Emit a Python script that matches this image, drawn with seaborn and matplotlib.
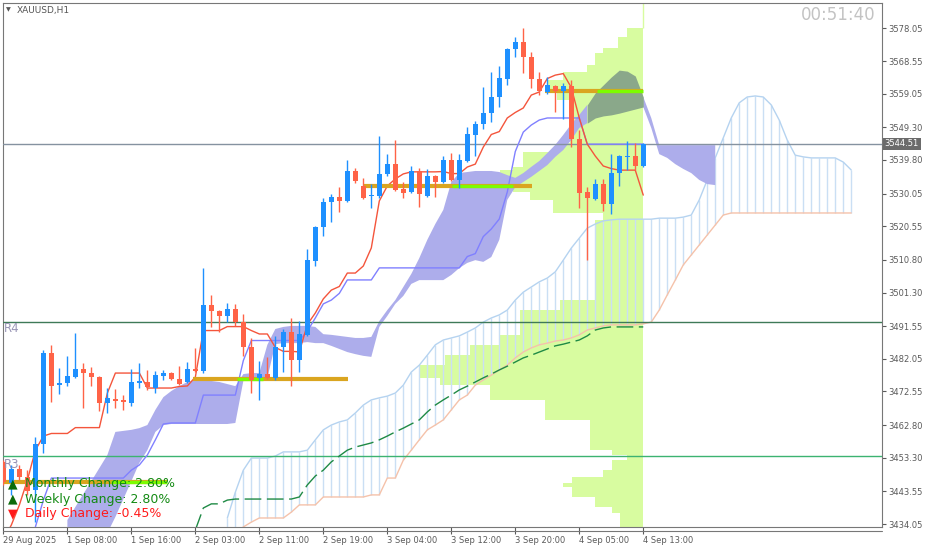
import numpy as np
import pandas as pd
import matplotlib
matplotlib.use("Agg")
import matplotlib.pyplot as plt
from matplotlib.lines import Line2D
import seaborn as sns

# ---- hourly candles, 29 Aug 2025 .. 4 Sep 13:00 (bar index 0..80) ----
opens = [3452.1, 3446.0, 3450.0, 3447.7, 3443.9, 3457.3, 3483.7, 3474.4, 3475.0, 3476.8,
         3479.1, 3477.9, 3476.8, 3469.2, 3470.4, 3470.1, 3469.2, 3475.0, 3475.3, 3473.6,
         3477.0, 3477.9, 3476.2, 3475.3, 3479.1, 3478.5, 3497.7, 3495.9, 3494.5, 3496.5,
         3492.7, 3485.5, 3476.5, 3477.6, 3476.5, 3485.5, 3489.8, 3481.7, 3489.0, 3510.5,
         3520.3, 3527.6, 3529.0, 3527.9, 3536.6, 3532.2, 3529.3, 3529.3, 3535.7, 3538.6,
         3531.4, 3530.5, 3536.6, 3529.3, 3535.1, 3533.4, 3539.8, 3534.0, 3539.5, 3547.1,
         3550.3, 3553.4, 3558.1, 3563.3, 3572.0, 3574.1, 3569.7, 3563.3, 3559.5, 3561.3,
         3559.8, 3561.3, 3545.9, 3530.5, 3528.5, 3532.8, 3527.0, 3536.0, 3540.7, 3541.0,
         3538.1]
highs = [3452.6, 3451.2, 3451.2, 3449.7, 3459.3, 3484.6, 3486.1, 3479.4, 3482.9, 3489.5,
         3480.8, 3479.7, 3477.0, 3473.6, 3473.3, 3471.5, 3479.1, 3480.8, 3478.8, 3478.5,
         3478.8, 3478.2, 3480.0, 3481.1, 3485.2, 3508.4, 3500.6, 3496.2, 3498.3, 3498.0,
         3495.1, 3488.1, 3481.4, 3482.6, 3488.7, 3490.7, 3493.9, 3493.0, 3513.9, 3520.6,
         3528.8, 3529.9, 3532.0, 3539.8, 3537.5, 3534.6, 3532.8, 3546.8, 3541.5, 3545.6,
         3533.4, 3538.1, 3537.5, 3537.2, 3535.4, 3541.0, 3541.8, 3541.5, 3549.4, 3551.1,
         3561.0, 3565.4, 3567.1, 3572.3, 3575.5, 3578.1, 3571.2, 3565.4, 3563.9, 3561.6,
         3562.2, 3563.0, 3548.5, 3532.0, 3534.3, 3534.3, 3541.5, 3541.2, 3545.3, 3544.7,
         3544.6]
lows = [3445.4, 3442.5, 3446.8, 3442.5, 3434.6, 3454.7, 3469.5, 3471.8, 3474.1, 3476.5,
        3467.8, 3474.1, 3466.9, 3466.3, 3467.8, 3467.2, 3468.3, 3473.6, 3473.0, 3472.1,
        3475.9, 3475.9, 3474.4, 3475.0, 3478.2, 3477.9, 3491.3, 3489.8, 3492.7, 3491.6,
        3482.9, 3472.1, 3470.1, 3476.2, 3475.9, 3478.2, 3474.1, 3478.2, 3488.7, 3509.0,
        3517.7, 3521.8, 3524.7, 3527.6, 3533.1, 3528.5, 3525.9, 3528.8, 3535.1, 3530.8,
        3528.8, 3530.2, 3526.1, 3529.0, 3529.0, 3533.1, 3533.7, 3531.7, 3539.2, 3541.0,
        3548.8, 3550.8, 3555.2, 3561.6, 3569.7, 3565.1, 3560.7, 3558.7, 3559.0, 3553.7,
        3551.7, 3543.6, 3525.9, 3510.7, 3528.2, 3525.0, 3524.1, 3532.2, 3536.9, 3536.9,
        3537.8]
closes = [3446.3, 3450.0, 3447.7, 3443.6, 3457.3, 3483.7, 3474.1, 3475.0, 3477.0, 3479.1,
          3477.9, 3476.8, 3469.2, 3470.7, 3469.8, 3469.5, 3475.3, 3475.6, 3473.9, 3477.3,
          3477.9, 3476.2, 3474.7, 3479.1, 3478.5, 3497.7, 3495.9, 3494.5, 3496.5, 3492.7,
          3485.5, 3475.9, 3477.6, 3476.5, 3485.5, 3489.8, 3481.7, 3489.2, 3510.7, 3520.3,
          3527.6, 3529.0, 3527.9, 3536.6, 3533.7, 3528.8, 3529.6, 3535.7, 3538.6, 3531.1,
          3530.2, 3536.6, 3529.9, 3535.1, 3533.4, 3539.8, 3534.0, 3539.8, 3547.3, 3550.3,
          3553.4, 3558.1, 3563.6, 3572.0, 3574.1, 3569.7, 3563.3, 3559.8, 3561.6, 3559.8,
          3561.3, 3545.9, 3530.2, 3528.8, 3532.8, 3527.0, 3536.0, 3541.0, 3541.0, 3538.1,
          3544.5]

time_labels = ["29 Aug 2025", "1 Sep 08:00", "1 Sep 16:00", "2 Sep 03:00", "2 Sep 11:00",
               "2 Sep 19:00", "3 Sep 04:00", "3 Sep 12:00", "3 Sep 20:00", "4 Sep 05:00",
               "4 Sep 13:00"]
price_ticks = [3578.05, 3568.55, 3559.05, 3549.30, 3539.80, 3530.05, 3520.55, 3510.80,
               3501.30, 3491.55, 3482.05, 3472.55, 3462.80, 3453.30, 3443.55, 3434.05]

# tenkan / kijun at the start of the chart (their windows reach before bar 0)
tenkan_early = [3429.4, 3433.8, 3439.6, 3446.8, 3455.5]            # bars 0..4
kijun_early = [3433.2, 3441.0, 3447.4, 3447.4, 3447.4, 3447.4, 3447.4, 3447.4, 3447.4,
               3447.4, 3447.4, 3447.4, 3449.7, 3451.2, 3454.1, 3458.5, 3463.1, 3463.4,
               3463.4, 3463.4, 3463.4]                                   # bars 4..24

# ---- lavender cloud (bars 8..89), dark part on bars 73..80 ----
cloud_start = 8
cloud_top = [3435.2, 3439.0, 3442.8, 3446.5, 3450.3, 3454.1, 3460.8, 3461.1, 3461.4, 3461.9,
             3462.8, 3467.2, 3470.9, 3472.7, 3474.1, 3475.3, 3475.9, 3475.9, 3475.6, 3475.3,
             3474.7, 3474.1, 3477.6, 3477.9, 3477.9, 3486.1, 3490.7, 3491.3, 3491.6, 3491.6,
             3491.6, 3491.3, 3489.2, 3489.0, 3488.7, 3488.4, 3488.1, 3488.1, 3488.4, 3493.0,
             3496.2, 3499.1, 3502.9, 3506.7, 3511.3, 3516.6, 3521.2, 3525.3, 3533.4, 3536.0,
             3536.3, 3536.6, 3536.6, 3536.6, 3536.3, 3535.4, 3534.6, 3536.0, 3537.8, 3539.5,
             3541.8, 3544.2, 3547.1, 3550.2, 3552.9, 3555.8, 3559.3, 3561.6, 3563.9, 3565.9,
             3565.6, 3564.2, 3558.1, 3552.0, 3544.1, 3544.1, 3544.1, 3544.1, 3544.1, 3544.1,
             3544.1, 3544.1]
cloud_bot = [3429.4, 3429.4, 3429.4, 3429.4, 3429.4, 3431.4, 3436.1, 3441.3, 3446.5, 3451.8,
             3455.5, 3460.8, 3462.8, 3463.1, 3463.1, 3463.1, 3463.1, 3463.1, 3463.1, 3463.1,
             3463.1, 3463.4, 3475.6, 3475.9, 3475.9, 3476.5, 3486.3, 3486.6, 3486.6, 3486.6,
             3486.9, 3486.6, 3486.6, 3485.8, 3484.9, 3484.0, 3483.4, 3482.9, 3482.6, 3491.3,
             3494.5, 3498.0, 3500.3, 3503.8, 3504.9, 3504.9, 3504.9, 3504.9, 3506.4, 3508.4,
             3509.9, 3510.7, 3510.2, 3511.6, 3516.6, 3528.2, 3531.9, 3533.4, 3534.9, 3536.6,
             3538.3, 3540.7, 3542.7, 3545.6, 3549.1, 3550.5, 3552.0, 3552.6, 3552.9, 3553.4,
             3554.0, 3554.6, 3555.2, 3549.1, 3541.5, 3540.4, 3538.6, 3537.2, 3536.0, 3534.0,
             3532.8, 3532.5]
dark_from, dark_to = 73, 80

# ---- hatched senkou cloud (bars 28..106) ----
span_start = 28
span_a = [3435.8, 3443.3, 3449.7, 3453.2, 3453.2, 3453.2, 3453.8, 3455.0, 3455.0, 3455.0,
          3455.5, 3458.5, 3461.4, 3462.8, 3463.7, 3464.3, 3466.3, 3468.6, 3470.1, 3470.7,
          3471.2, 3472.1, 3474.4, 3478.2, 3480.2, 3483.1, 3486.1, 3487.5, 3488.1, 3488.7,
          3489.8, 3491.0, 3492.7, 3493.9, 3494.8, 3496.2, 3499.1, 3501.4, 3502.9, 3504.4,
          3505.5, 3507.3, 3510.7, 3514.2, 3517.1, 3520.0, 3521.2, 3522.1, 3522.4, 3522.6,
          3522.6, 3522.6, 3522.6, 3522.6, 3522.9, 3522.9, 3522.9, 3523.2, 3523.8, 3528.2,
          3534.0, 3540.4, 3546.2, 3552.0, 3556.4, 3558.1, 3558.4, 3558.1, 3555.8, 3551.4,
          3545.6, 3541.2, 3540.7, 3540.4, 3540.4, 3540.4, 3540.4, 3539.2, 3536.9]
span_b = [3429.4, 3430.9, 3433.2, 3434.6, 3435.8, 3435.8, 3435.8, 3435.8, 3437.5, 3439.6,
          3439.6, 3439.6, 3441.9, 3441.9, 3441.9, 3441.9, 3441.9, 3441.9, 3442.5, 3442.5,
          3447.4, 3447.4, 3452.6, 3455.5, 3458.5, 3461.4, 3462.8, 3464.3, 3467.2, 3470.1,
          3471.5, 3474.4, 3475.9, 3477.3, 3478.8, 3480.2, 3482.3, 3484.0, 3485.2, 3486.1,
          3486.6, 3487.2, 3487.5, 3488.1, 3489.0, 3490.4, 3491.0, 3491.6, 3491.9, 3491.9,
          3491.9, 3491.9, 3492.2, 3492.7, 3496.2, 3500.6, 3504.9, 3509.3, 3512.2, 3515.1,
          3518.0, 3520.9, 3523.8, 3524.4, 3524.4, 3524.4, 3524.4, 3524.4, 3524.4, 3524.4,
          3524.4, 3524.4, 3524.4, 3524.4, 3524.4, 3524.4, 3524.4, 3524.4, 3524.4]

# ---- dashed green lagging line (bars 24..80) ----
lag_start = 24
lag_line = [3432.3, 3438.7, 3439.9, 3439.9, 3441.0, 3441.3, 3441.3, 3441.3, 3441.3, 3441.3,
            3441.3, 3441.3, 3441.3, 3441.9, 3445.4, 3448.0, 3449.7, 3452.1, 3453.8, 3455.5,
            3456.4, 3457.0, 3457.6, 3458.5, 3459.6, 3460.8, 3461.9, 3463.1, 3464.3, 3466.6,
            3468.6, 3470.1, 3471.5, 3473.0, 3474.1, 3475.3, 3476.5, 3477.6, 3478.8, 3479.9,
            3481.1, 3482.3, 3483.1, 3484.0, 3484.9, 3485.8, 3486.3, 3486.9, 3487.5, 3488.7,
            3490.4, 3491.0, 3491.3, 3491.3, 3491.3, 3491.3, 3491.3]

# ---- volume profile anchored at the last bar ----
prof_hi = [3578.1, 3575.5, 3572.3, 3570.9, 3567.4, 3565.4, 3563.0, 3560.1, 3557.2, 3544.7,
           3542.1, 3537.8, 3536.9, 3533.1, 3530.5, 3528.2, 3524.4, 3522.4, 3499.1, 3496.2,
           3488.9, 3486.0, 3483.1, 3480.2, 3476.5, 3474.4, 3470.1, 3464.3, 3455.5, 3454.1,
           3452.6, 3449.7, 3447.7, 3446.0, 3444.8, 3441.9, 3439.0, 3437.2]
prof_lo = [3575.5, 3572.3, 3570.9, 3567.4, 3565.4, 3563.0, 3560.1, 3557.2, 3544.7, 3542.1,
           3537.8, 3536.9, 3533.1, 3530.5, 3528.2, 3524.4, 3522.4, 3499.1, 3496.2, 3488.9,
           3486.0, 3483.1, 3480.2, 3476.5, 3474.4, 3470.1, 3464.3, 3455.5, 3454.1, 3452.6,
           3449.7, 3447.7, 3446.0, 3444.8, 3441.9, 3439.0, 3437.2, 3432.3]
prof_len = [2.0, 3.1, 5.0, 6.0, 7.0, 10.0, 12.0, 10.75, 9.1, 10.4,
            15.0, 16.25, 17.9, 16.25, 14.1, 11.25, 5.0, 6.0, 10.4, 15.4,
            17.9, 21.6, 24.75, 28.1, 25.4, 19.1, 12.25, 6.6, 3.9, 2.0,
            3.9, 5.0, 8.9, 10.0, 8.9, 6.0, 3.9, 2.9]

# ---- level segments (price, from bar, to bar) ----
gold_price = [3446.25, 3476.17, 3532.24, 3559.83]
gold_from = [0.0, 23.75, 45.0, 67.75]
gold_to = [20.5, 43.1, 66.1, 80.0]
lime_from = [13.4, 29.25, 56.1, 74.25]
lime_to = [20.5, 32.5, 63.75, 80.0]

last_price = 3544.51
r4_level = 3492.73
r3_level = 3453.8
stats = [("▲", "Monthly Change: 2.80%", "#138a13", "#0b6b0b"),
         ("▲", "Weekly Change: 2.80%", "#138a13", "#0b6b0b"),
         ("▼", "Daily Change: -0.45%", "#ff1a1a", "#ff1a1a")]

# ---- build frame + ichimoku base lines ----
df = pd.DataFrame({"open": opens, "high": highs, "low": lows, "close": closes})
df["bar"] = np.arange(len(df))
df["tenkan"] = (df["high"].rolling(9, min_periods=1).max() + df["low"].rolling(9, min_periods=1).min()) / 2
df.loc[:len(tenkan_early) - 1, "tenkan"] = tenkan_early
df["kijun"] = (df["high"].rolling(26).max() + df["low"].rolling(26).min()) / 2
df.loc[4:4 + len(kijun_early) - 1, "kijun"] = kijun_early

sns.set_theme(style="white")
plt.rcParams["font.family"] = ["DejaVu Sans"]

W, H = 926, 554
fig = plt.figure(figsize=(W / 100, H / 100), dpi=100)
ax = fig.add_axes([3 / W, 27 / H, 879 / W, 524 / H])

# profile
ax.barh(prof_lo, prof_len, height=np.array(prof_hi) - np.array(prof_lo), left=80 - np.array(prof_len),
        align="edge", color="#d8fca0", linewidth=0, zorder=1)
ax.vlines(80, prof_hi[0], 3590, color="#d8fca0", lw=1, zorder=1)

# hatched senkou cloud
sb = np.arange(span_start, span_start + len(span_a))
ax.vlines(sb, span_b, span_a, color="#cadff4", lw=1, zorder=2)
sns.lineplot(x=sb, y=span_a, ax=ax, color="#b5d3f0", lw=1, zorder=2.5)
sns.lineplot(x=sb, y=span_b, ax=ax, color="#f5c2aa", lw=1, zorder=2.5)

# lavender cloud
cb = np.arange(cloud_start, cloud_start + len(cloud_top))
dark = (cb >= dark_from) & (cb <= dark_to)
light = (cb <= dark_from) | (cb >= dark_to)
ax.fill_between(cb, cloud_bot, cloud_top, where=light, color="#adadeb", lw=0, zorder=3)
ax.fill_between(cb, cloud_bot, cloud_top, where=dark, color="#8aa88a", lw=0, zorder=3.1)

# horizontal levels
ax.axhline(last_price, color="#8592a0", lw=1, zorder=3.5)
ax.axhline(r4_level, color="#3f7a58", lw=1, zorder=3.5)
ax.axhline(r3_level, color="#3cb371", lw=1, zorder=3.5)

# lines
lb = np.arange(lag_start, lag_start + len(lag_line))
ax.plot(lb, lag_line, color="#1f8a45", lw=1, ls=(0, (12, 4)), zorder=4)
sns.lineplot(data=df, x="bar", y="kijun", ax=ax, color="#8080ff", lw=1, zorder=4)
sns.lineplot(data=df, x="bar", y="tenkan", ax=ax, color="#f4553c", lw=1, zorder=4.1)

# level segments
ax.hlines(gold_price, gold_from, gold_to, color="#daa520", lw=3, zorder=5)
ax.hlines(gold_price, lime_from, lime_to, color="#7cfc00", lw=2.4, zorder=5.1)

# candles
bull = df["close"] >= df["open"]
ccol = np.where(bull, "#1e90ff", "#ff6347")
ax.vlines(df["bar"], df["low"], df["high"], colors=ccol, lw=1, zorder=6)
body_lo = np.minimum(df["open"], df["close"])
body_h = np.maximum((df["close"] - df["open"]).abs(), 0.35)
ax.bar(df["bar"], body_h, bottom=body_lo, width=0.62, color=ccol, linewidth=0, zorder=6.1)

# axes styling
ax.set_xlim(-0.05, 109.85)
ax.set_ylim(3433.18, 3585.4)
ax.set_xlabel("")
ax.set_ylabel("")
ax.set_xticks(np.arange(0, 81, 8))
ax.set_xticklabels(time_labels, ha="left")
ax.yaxis.tick_right()
ax.set_yticks(price_ticks)
ax.set_yticklabels([f"{p:.2f}" for p in price_ticks])
ax.tick_params(axis="x", bottom=True, length=5, width=0.8, pad=1.5, labelsize=6,
               colors="#5a5a5a", direction="out")
ax.tick_params(axis="y", right=True, left=False, length=3, width=0.8, pad=1.5, labelsize=6,
               colors="#5a5a5a", direction="out")
for s in ax.spines.values():
    s.set_color("#777777")
    s.set_linewidth(0.8)
fig.add_artist(Line2D([3 / W, 882 / W], [1 - 530.5 / H] * 2, color="#777777", lw=0.8))

# price label
ax.text(1.003, last_price, f"{last_price:.2f}", transform=ax.get_yaxis_transform(),
        ha="left", va="center", fontsize=6, color="white", zorder=10,
        bbox=dict(boxstyle="square,pad=0.2", fc="#6b6b6b", ec="none"))

# texts
fig.text(801 / W, 1 - 15 / H, "00:51:40", fontsize=12, color="#c3c3c3", va="center", ha="left")
fig.text(6 / W, 1 - 10 / H, "▼", fontsize=4.5, color="#555555", va="center", ha="left")
fig.text(17 / W, 1 - 10 / H, "XAUUSD,H1", fontsize=6.5, color="#555555", va="center", ha="left")
fig.text(4 / W, 1 - 328 / H, "R4", fontsize=8.5, color="#9894b5", va="center", ha="left")
fig.text(4 / W, 1 - 464 / H, "R3", fontsize=8.5, color="#9894b5", va="center", ha="left")
for k, (mark, txt, col, mcol) in enumerate(stats):
    yy = 1 - (484 + 15 * k) / H
    fig.text(8 / W, yy, mark, fontsize=9, color=mcol, va="center", ha="left")
    fig.text(25 / W, yy, txt, fontsize=9, color=col, va="center", ha="left")

fig.savefig("out.png", dpi=100)
